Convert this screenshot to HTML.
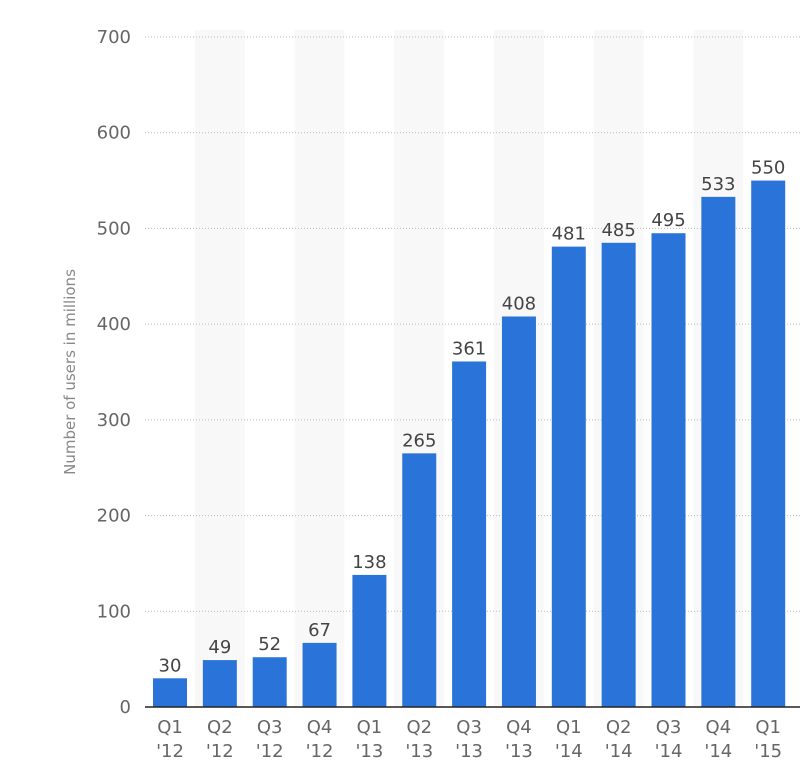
<!DOCTYPE html>
<html><head><meta charset="utf-8"><style>
html,body{margin:0;padding:0;background:#fff;width:800px;height:777px;overflow:hidden}
svg text{font-family:"DejaVu Sans","Liberation Sans",sans-serif}
</style></head><body>
<svg id="chart" width="800" height="777" xmlns="http://www.w3.org/2000/svg"></svg>
<script>
const categories=["Q1|'12","Q2|'12","Q3|'12","Q4|'12","Q1|'13","Q2|'13","Q3|'13","Q4|'13","Q1|'14","Q2|'14","Q3|'14","Q4|'14","Q1|'15"];
const values=[30,49,52,67,138,265,361,408,481,485,495,533,550];
const yTicks=[0,100,200,300,400,500,600,700];
const NS="http://www.w3.org/2000/svg";
const svg=document.getElementById('chart');
const y0=707,y700=37,yMax=700;
const yScale=v=>y0-(y0-y700)*v/yMax;
const step=49.85,firstC=170,barW=34;
const xScale=i=>firstC+i*step;
function mk(tag,attrs,parent){const e=document.createElementNS(NS,tag);for(const k in attrs)e.setAttribute(k,attrs[k]);(parent||svg).appendChild(e);return e;}
categories.forEach((c,i)=>{if(i%2===1){const r=mk('rect',{x:xScale(i)-step/2,y:30,width:step,height:y0-30,fill:'#f8f8f8'});

}});
yTicks.forEach(t=>{const y=yScale(t);
if(t>0){const l=mk('line',{x1:145,x2:800,y1:y,y2:y,stroke:'#bbb','stroke-width':1,'stroke-dasharray':'1,2'});

}
const tx=mk('text',{x:131,y:y+6,'text-anchor':'end','font-size':18,fill:'#666'});tx.textContent=t;

});
values.forEach((v,i)=>{const cx=xScale(i);
const r=mk('rect',{x:cx-barW/2,y:yScale(v),width:barW,height:y0-yScale(v),fill:'#2a74d9'});


const t=mk('text',{x:cx,y:yScale(v)-7,'text-anchor':'middle','font-size':18,fill:'#444'});t.textContent=v;


const parts=categories[i].split('|');
const a=mk('text',{x:cx,y:733,'text-anchor':'middle','font-size':18,fill:'#666'});a.textContent=parts[0];


const b=mk('text',{x:cx,y:757,'text-anchor':'middle','font-size':18,fill:'#666'});b.textContent=parts[1];

});
const ax=mk('line',{x1:145,x2:800,y1:y0,y2:y0,stroke:'#222','stroke-width':1.5});


const yt=mk('text',{x:0,y:0,'text-anchor':'middle','font-size':15,fill:'#888',transform:'translate(75,372) rotate(-90)'});yt.textContent='Number of users in millions';


</script>
</body></html>
